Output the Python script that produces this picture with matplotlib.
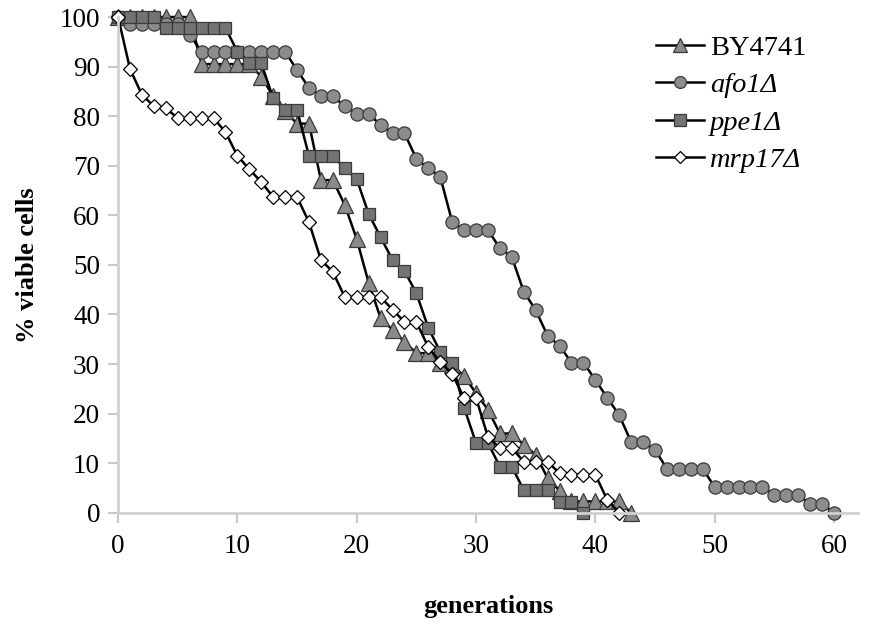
import matplotlib
matplotlib.use("Agg")
import matplotlib.pyplot as plt

plt.rcParams['font.family'] = ['Liberation Serif', 'DejaVu Serif']

# generation counts and % viable cells
gen_by = list(range(44))
by4741 = [100, 100, 100, 100, 100, 100, 100, 90.5, 90.5, 90.5,
          90.5, 90.5, 88, 84, 81, 78.5, 78.5, 67.1, 67.1, 62.1,
          55.2, 46.4, 39.3, 36.9, 34.5, 32.2, 32.2, 30.2, 29.8, 27.6,
          24.1, 20.8, 16, 16, 13.7, 11.7, 7, 4.5, 2.3, 2.3,
          2.3, 2.3, 2.3, 0]

gen_afo = list(range(61))
afo1 = [100, 98.5, 98.5, 98.5, 98.5, 98.5, 96.4, 93, 93, 93,
        93, 93, 93, 93, 93, 89.3, 85.7, 84, 84, 82,
        80.5, 80.5, 78.2, 76.6, 76.6, 71.4, 69.5, 67.8, 58.7, 57,
        57, 57, 53.4, 51.6, 44.6, 40.9, 35.7, 33.7, 30.3, 30.3,
        26.8, 23.2, 19.7, 14.3, 14.3, 12.7, 8.9, 8.9, 8.9, 8.9,
        5.2, 5.2, 5.2, 5.2, 5.2, 3.6, 3.6, 3.6, 1.8, 1.8,
        0]

gen_ppe = list(range(40))
ppe1 = [100, 100, 100, 100, 97.8, 97.8, 97.8, 97.8, 97.8, 97.8,
        93, 90.7, 90.7, 83.6, 81.2, 81.2, 72, 72, 72, 69.5,
        67.3, 60.3, 55.6, 51, 48.8, 44.3, 37.3, 32.5, 30.3, 21.2,
        14.1, 14.1, 9.3, 9.3, 4.6, 4.6, 4.6, 2.2, 2.2, 0]

gen_mrp = list(range(43))
mrp17 = [100, 89.5, 84.3, 82, 81.6, 79.6, 79.6, 79.6, 79.6, 76.8,
         72, 69.3, 66.7, 63.7, 63.7, 63.7, 58.6, 51, 48.6, 43.5,
         43.5, 43.5, 43.5, 41, 38.5, 38.5, 33.4, 30.4, 28, 23.2,
         23.2, 15.3, 13.1, 13.1, 10.3, 10.3, 10.3, 8, 7.7, 7.7,
         7.7, 2.6, 0]

labels = ['BY4741', 'afo1Δ', 'ppe1Δ', 'mrp17Δ']

fig = plt.figure(figsize=(8.88, 6.3), dpi=100)
ax = fig.add_axes([0.133, 0.186, 0.833, 0.787])

edge = '#3a3a3a'
ax.plot(gen_by, by4741, color='black', lw=1.8, marker='^', ms=11,
        mfc='#8a8a8a', mec=edge, mew=0.9, label=labels[0])
ax.plot(gen_afo, afo1, color='black', lw=1.8, marker='o', ms=9.5,
        mfc='#8c8c8c', mec=edge, mew=0.9, label=labels[1])
ax.plot(gen_ppe, ppe1, color='black', lw=1.8, marker='s', ms=9.2,
        mfc='#737373', mec=edge, mew=0.9, label=labels[2])
ax.plot(gen_mrp, mrp17, color='black', lw=1.8, marker='D', ms=6.8,
        mfc='white', mec='black', mew=0.9, label=labels[3])

ax.set_xlim(0, 62)
ax.set_ylim(0, 100)
ax.set_xticks(range(0, 61, 10))
ax.set_yticks(range(0, 101, 10))
ax.tick_params(labelsize=19.5, colors='#c8c8c8', labelcolor='black',
               length=7, width=1.5)
ax.tick_params(axis='x', pad=8)
ax.tick_params(axis='y', pad=6)

for s in ['top', 'right']:
    ax.spines[s].set_visible(False)
for s in ['left', 'bottom']:
    ax.spines[s].set_color('#d0d0d0')
    ax.spines[s].set_linewidth(2)
for ln in ax.lines:
    ln.set_clip_on(False)

ax.set_xlabel('generations', fontsize=19, fontweight='bold', labelpad=26)
ax.set_ylabel('% viable cells', fontsize=19, fontweight='bold', labelpad=15)

leg = ax.legend(loc='upper right', bbox_to_anchor=(0.965, 1.015), frameon=False,
                fontsize=20.5, handlelength=1.7, handletextpad=0.2,
                labelspacing=0.4, markerscale=0.9)
for t in leg.get_texts()[1:]:
    t.set_fontstyle('italic')

fig.savefig('out.png', dpi=100)
